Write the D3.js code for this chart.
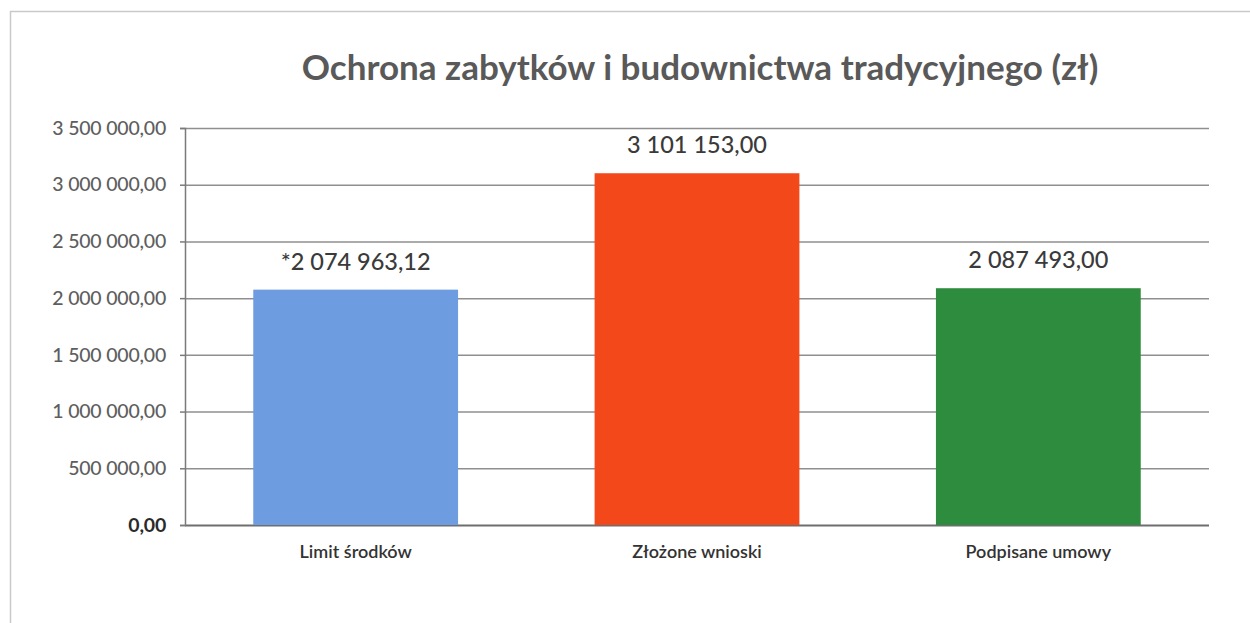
<!DOCTYPE html>
<html>
<head>
<meta charset="utf-8">
<script src="https://cdn.jsdelivr.net/npm/d3@7"></script>
<style>
  html, body { margin: 0; padding: 0; background: #fff; }
  svg { display: block; font-family: Lato, "Open Sans", sans-serif; }
  svg text { font-family: Lato, "Open Sans", sans-serif; }
</style>
</head>
<body>
<svg id="chart" width="1250" height="623"></svg>
<script>
// Chart data
const categories = ["Limit środków", "Złożone wnioski", "Podpisane umowy"];
const values = [2074963.12, 3101153.00, 2087493.00];
const labelPrefixes = ["*", "", ""];
const barColors = ["#6d9de0", "#f2481a", "#2d8c3e"];
const yTicks = [0, 500000, 1000000, 1500000, 2000000, 2500000, 3000000, 3500000];
const title = "Ochrona zabytków i budownictwa tradycyjnego (zł)";

const pl = d3.formatLocale({ decimal: ",", thousands: " ", grouping: [3], currency: ["", " zł"] });
const fmt = pl.format(",.2f");

const svg = d3.select("#chart");

// Chart frame
svg.append("rect")
  .attr("x", 10.5).attr("y", 11.5)
  .attr("width", 1300).attr("height", 700)
  .attr("fill", "none").attr("stroke", "#c9c9c9").attr("stroke-width", 1.5);

const plot = { left: 185, right: 1209, top: 128, bottom: 525 };

const x = d3.scaleBand()
  .domain(categories)
  .range([plot.left, plot.right])
  .paddingInner(0.4)
  .paddingOuter(0.2);

const y = d3.scaleLinear()
  .domain([0, 3500000])
  .range([plot.bottom, plot.top]);

// Horizontal gridlines
const grid = svg.append("g")
  .attr("transform", `translate(${plot.left},0)`)
  .call(d3.axisRight(y).tickValues(yTicks).tickSize(plot.right - plot.left).tickFormat(""));
grid.select(".domain").remove();
grid.selectAll(".tick line")
  .attr("stroke", d => d === 0 ? "#6e6e6e" : "#8f8f8f")
  .attr("stroke-width", d => d === 0 ? 2 : 1.5);

// Bars
svg.append("g").selectAll("rect")
  .data(categories)
  .join("rect")
  .attr("x", d => x(d))
  .attr("width", x.bandwidth())
  .attr("y", (d, i) => y(values[i]))
  .attr("height", (d, i) => y(0) - y(values[i]))
  .attr("fill", (d, i) => barColors[i]);

// Value axis
const yAxis = svg.append("g")
  .attr("transform", `translate(${plot.left},0)`)
  .call(d3.axisLeft(y).tickValues(yTicks).tickSize(5).tickPadding(14).tickFormat(fmt))
  .attr("font-family", null)
  .attr("font-size", null);
yAxis.select(".domain").attr("stroke", "#7a7a7a").attr("stroke-width", 1.5);
yAxis.selectAll(".tick line").attr("stroke", "#7a7a7a").attr("stroke-width", 1.5);
yAxis.selectAll(".tick text")
  .attr("fill", d => d === 0 ? "#2a2a2a" : "#5e5e5e")
  .style("font-size", d => d === 0 ? "19.5px" : "19.5px")
  .style("font-weight", d => d === 0 ? 700 : 500)
  .style("letter-spacing", "-0.2px");

// Category axis labels
svg.append("g").selectAll("text")
  .data(categories)
  .join("text")
  .attr("x", d => x(d) + x.bandwidth() / 2)
  .attr("y", 558)
  .attr("text-anchor", "middle")
  .attr("fill", "#333")
  .style("font-size", "18px")
  .style("font-weight", 600)
  .text(d => d);

// Value labels above bars
svg.append("g").selectAll("text")
  .data(categories)
  .join("text")
  .attr("x", d => x(d) + x.bandwidth() / 2)
  .attr("y", (d, i) => y(values[i]) - 20)
  .attr("text-anchor", "middle")
  .attr("fill", "#3a3a3a")
  .style("font-size", "23.5px")
  .style("font-weight", 500)
  .text((d, i) => labelPrefixes[i] + fmt(values[i]));

// Title
svg.append("text")
  .attr("x", 700)
  .attr("y", 80)
  .attr("text-anchor", "middle")
  .attr("fill", "#595959")
  .style("font-size", "35px")
  .style("font-weight", 700)
  .text(title);
</script>
</body>
</html>
